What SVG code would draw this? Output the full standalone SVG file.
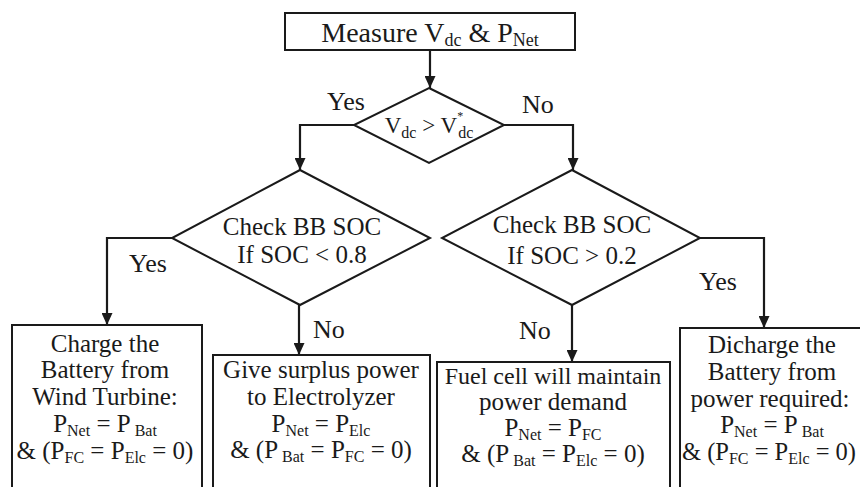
<svg xmlns="http://www.w3.org/2000/svg" width="860" height="487" viewBox="0 0 860 487" font-family="'Liberation Serif', 'DejaVu Serif', serif">
<style>
text{font-family:'Liberation Serif','DejaVu Serif',serif;fill:#1a1a1a;text-anchor:middle}
.t{font-size:25px}
.l{font-size:26px;text-anchor:start}
.s{font-size:16px}
.shape{fill:#fff;stroke:#1a1a1a;stroke-width:2}
.c{fill:none;stroke:#1a1a1a;stroke-width:2.2}
</style>
<defs>
<marker id="a" markerUnits="userSpaceOnUse" markerWidth="12" markerHeight="11" refX="12" refY="5.5" orient="auto">
<path d="M0,0 L12,5.5 L0,11 z" fill="#1a1a1a"/>
</marker>
</defs>
<rect width="860" height="487" fill="#fff"/>
<g id="connectors">
<path class="c" d="M430,50 V88" marker-end="url(#a)"/>
<path class="c" d="M354,125 H300 V170" marker-end="url(#a)"/>
<path class="c" d="M504,125 H573 V170" marker-end="url(#a)"/>
<path class="c" d="M172,238 H107 V325" marker-end="url(#a)"/>
<path class="c" d="M299,305 V355" marker-end="url(#a)"/>
<path class="c" d="M700,238 H764 V328" marker-end="url(#a)"/>
<path class="c" d="M572,305 V362" marker-end="url(#a)"/>
<text class="l" x="327" y="110">Yes</text>
<text class="l" x="522" y="113">No</text>
<text class="l" x="129" y="272">Yes</text>
<text class="l" x="699" y="290">Yes</text>
<text class="l" x="313" y="338">No</text>
<text class="l" x="519" y="339">No</text>
</g>
<g id="measure">
<rect class="shape" x="285" y="13" width="290" height="37"/>
<text x="430" y="42" style="font-size:28px">Measure V<tspan style="font-size:18px" dy="4">dc</tspan><tspan dy="-4"> &amp; P</tspan><tspan style="font-size:18px" dy="4">Net</tspan></text>
</g>
<g id="dec-vdc">
<polygon class="shape" points="429,88 504,125 429,163 354,125"/>
<text x="429" y="133" style="font-size:23px">V<tspan class="s" dy="5">dc</tspan><tspan dy="-5"> &gt; V</tspan><tspan style="font-size:12px" dy="-13">*</tspan><tspan class="s" dy="18" dx="-5">dc</tspan></text>
</g>
<g id="dec-soc-high">
<polygon class="shape" points="300,170 430,238 300,305 172,238"/>
<text class="t" x="302" y="235">Check BB SOC</text>
<text class="t" x="302" y="263">If  SOC &lt; 0.8</text>
</g>
<g id="dec-soc-low">
<polygon class="shape" points="572,170 700,238 572,305 442,238"/>
<text class="t" x="572" y="233">Check BB SOC</text>
<text class="t" x="572" y="264">If  SOC &gt; 0.2</text>
</g>
<g id="charge">
<rect class="shape" x="12" y="325" width="190" height="175"/>
<text class="t" x="105" y="352">Charge the</text>
<text class="t" x="105" y="378">Battery from</text>
<text class="t" x="105" y="405">Wind Turbine:</text>
<text class="t" x="105" y="432">P<tspan class="s" dy="4">Net</tspan><tspan dy="-4"> = P</tspan><tspan class="s" dy="4"> Bat</tspan></text>
<text class="t" x="105" y="459">&amp; (P<tspan class="s" dy="4">FC</tspan><tspan dy="-4"> = P</tspan><tspan class="s" dy="4">Elc</tspan><tspan dy="-4"> = 0)</tspan></text>
</g>
<g id="electrolyzer">
<rect class="shape" x="213" y="355" width="217" height="145"/>
<text class="t" x="321" y="378">Give surplus power</text>
<text class="t" x="321" y="405">to Electrolyzer</text>
<text class="t" x="321" y="432">P<tspan class="s" dy="4">Net</tspan><tspan dy="-4"> = P</tspan><tspan class="s" dy="4">Elc</tspan></text>
<text class="t" x="321" y="458">&amp; (P<tspan class="s" dy="4"> Bat</tspan><tspan dy="-4"> = P</tspan><tspan class="s" dy="4">FC</tspan><tspan dy="-4"> = 0)</tspan></text>
</g>
<g id="fuelcell">
<rect class="shape" x="437" y="362" width="233" height="140"/>
<text x="553" y="384" style="font-size:24px">Fuel cell will maintain</text>
<text class="t" x="553" y="410">power demand</text>
<text class="t" x="553" y="436">P<tspan class="s" dy="4">Net</tspan><tspan dy="-4"> = P</tspan><tspan class="s" dy="4">FC</tspan></text>
<text class="t" x="553" y="462">&amp; (P<tspan class="s" dy="4"> Bat</tspan><tspan dy="-4"> = P</tspan><tspan class="s" dy="4">Elc</tspan><tspan dy="-4"> = 0)</tspan></text>
</g>
<g id="discharge">
<rect class="shape" x="680" y="328" width="200" height="175"/>
<text class="t" x="772" y="353">Dicharge the</text>
<text class="t" x="772" y="380">Battery from</text>
<text class="t" x="770" y="407">power required:</text>
<text class="t" x="772" y="433">P<tspan class="s" dy="4">Net</tspan><tspan dy="-4"> = P</tspan><tspan class="s" dy="4"> Bat</tspan></text>
<text x="769" y="460" style="font-size:24.5px">&amp; (P<tspan class="s" dy="4">FC</tspan><tspan dy="-4"> = P</tspan><tspan class="s" dy="4">Elc</tspan><tspan dy="-4"> = 0)</tspan></text>
</g>
</svg>
